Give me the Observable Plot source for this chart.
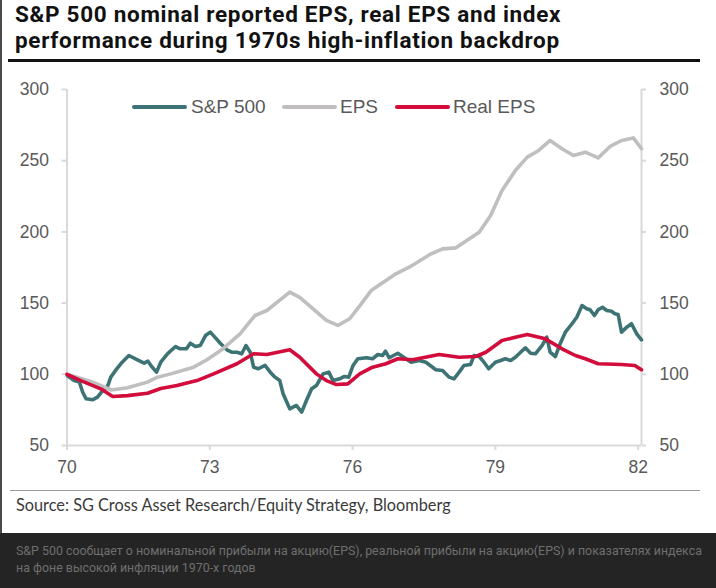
<!DOCTYPE html>
<html>
<head>
<meta charset="utf-8">
<script src="https://cdn.jsdelivr.net/npm/d3@7"></script>
<script src="https://cdn.jsdelivr.net/npm/@observablehq/plot@0.6"></script>
<style>
  html, body { margin: 0; padding: 0; background: #ffffff; }
  #page { position: relative; width: 716px; height: 588px; overflow: hidden; background: #fff; }
  #lborder { position: absolute; left: 0; top: 0; width: 2px; height: 533px; background: #4a4a4a; }
  #title { position: absolute; left: 15px; top: 1px; font-family: Roboto, "Noto Sans", sans-serif; font-weight: 700; font-size: 22.5px; color: #111; white-space: nowrap; line-height: 26.4px; letter-spacing: 0.7px; }
  #rule { position: absolute; left: 8px; top: 59px; width: 692px; height: 3px; background: #111; }
  #chart { position: absolute; left: 0; top: 62px; }
  #legend { position: absolute; top: 96px; left: 0; height: 22px; width: 716px; font-family: "Liberation Sans", Arial, sans-serif; font-size: 19px; color: #595959; }
  .sw { position: absolute; top: 9px; height: 4px; border-radius: 2px; }
  .lt { position: absolute; top: 0; line-height: 22px; white-space: nowrap; }
  #srule { position: absolute; left: 10px; top: 490px; width: 690px; height: 1px; background: #9a9a9a; }
  #source { position: absolute; left: 16px; top: 495px; font-family: Lato, sans-serif; font-size: 16.3px; color: #3a3a3a; line-height: 20px; white-space: nowrap; }
  #footer { position: absolute; left: 0; top: 533px; width: 716px; height: 55px; background: #242424; }
  #caption { position: absolute; left: 16px; top: 9px; font-family: Roboto, sans-serif; font-size: 12.4px; color: #6f6f6f; line-height: 17px; white-space: nowrap; }
</style>
</head>
<body>
<div id="page">
  <div id="lborder"></div>
  <div id="title">S&amp;P 500 nominal reported EPS, real EPS and index<br>performance during 1970s high-inflation backdrop</div>
  <div id="rule"></div>
  <div id="chart"></div>
  <div id="legend"></div>
  <div id="srule"></div>
  <div id="source">Source: SG Cross Asset Research/Equity Strategy, Bloomberg</div>
  <div id="footer"><div id="caption">S&amp;P 500 сообщает о номинальной прибыли на акцию(EPS), реальной прибыли на акцию(EPS) и показателях индекса<br>на фоне высокой инфляции 1970-х годов</div></div>
</div>
<script>
// ---- Data (rebased, 1970 = 100) ----
const seriesNames = ["S&P 500", "EPS", "Real EPS"];
const seriesColors = ["#3d7375", "#c0bebe", "#d20c3b"];

const spxYears = [70.01,70.15,70.26,70.33,70.4,70.54,70.64,70.75,70.85,70.92,71.02,71.16,71.3,71.48,71.62,71.7,71.79,71.88,71.97,72.11,72.28,72.38,72.51,72.59,72.7,72.8,72.91,73.01,73.12,73.22,73.36,73.46,73.57,73.67,73.76,73.85,73.92,74.02,74.16,74.27,74.37,74.47,74.54,74.68,74.82,74.93,75.03,75.14,75.24,75.38,75.5,75.59,75.73,75.83,75.92,76.01,76.11,76.29,76.42,76.53,76.63,76.69,76.77,76.95,77.05,77.23,77.4,77.54,77.75,77.89,78.03,78.13,78.24,78.34,78.48,78.55,78.66,78.76,78.86,79,79.11,79.21,79.32,79.42,79.53,79.63,79.74,79.84,79.98,80.08,80.15,80.26,80.36,80.47,80.61,80.71,80.82,80.92,80.99,81.08,81.16,81.25,81.34,81.44,81.51,81.58,81.65,81.76,81.86,81.97,82.07];
const spxValues = [99,95.6,94.5,87.4,82.8,82.1,84,88.6,91.4,98,102.7,108.5,113.2,110.2,107.8,109.2,105,101.5,108.5,114.4,119.5,117.9,117.9,121.8,119.5,120.2,127.2,129.6,125.6,121.8,117.2,115.5,115.5,114.4,120.2,115.5,105,103.9,106.2,101.5,98,95.6,86.3,75.8,78.1,73.4,81.6,89.8,92.1,100.3,101.5,95.6,96.8,98.5,98,106.2,110.9,111.6,110.9,113.9,113.2,116.2,111.6,114.8,112.5,108.5,109.7,108.5,103.2,102.7,98,96.8,101.5,106.2,106.9,113.2,112.5,108.5,103.9,108.5,109.7,110.9,109.7,112,115.5,118.6,114.8,114.4,120.2,126.1,115.5,112.5,121.4,129.6,135.5,140.1,148.3,146,145.3,141.3,145.3,147.1,144.8,144.3,142.5,142,129.6,133.1,135.5,128.4,124.2];

const epsYears = [70,70.5,70.93,71.27,71.69,71.9,72.18,72.66,72.94,73.28,73.64,73.95,74.2,74.68,74.89,75.45,75.69,75.94,76.15,76.39,76.91,77.19,77.65,77.89,78.17,78.66,78.9,79.14,79.42,79.67,79.91,80.15,80.4,80.64,80.89,81.16,81.41,81.65,81.9,82.07];
const epsValues = [100,95,89,90.5,94.5,98,100.3,105,110.2,118,128.6,141.3,144.8,157.7,154,137.8,134.3,139,148,158.8,170.6,175.2,184.6,188.1,188.8,199.8,211.5,229,243.1,252.5,257.2,264.2,258.4,253.7,256,252,260,264.2,266,258.4];

const realYears = [70,70.29,70.71,70.96,71.27,71.69,71.97,72.31,72.73,73.08,73.57,73.92,74.2,74.68,74.89,75.24,75.45,75.66,75.9,76.15,76.42,76.7,76.95,77.26,77.82,78.24,78.59,78.8,79.14,79.42,79.67,80.05,80.4,80.68,80.89,81.16,81.65,81.93,82.07];
const realValues = [100,95.6,89.8,84.4,85,86.7,90,92.1,95.6,100.3,107.4,114.4,113.9,117.2,112,100.3,95.6,92.8,93.3,100.3,105,107.4,110.9,110.2,113.9,112,112.5,115.5,123.7,126.1,128,124.9,117.9,113.2,110.9,107.4,106.9,106.2,103.2];

const yTicks = [50, 100, 150, 200, 250, 300];
const xTicks = [70, 73, 76, 79, 82];
const xTickLabels = ["70", "73", "76", "79", "82"];

// ---- Build tables ----
const toRows = (xs, vs) => xs.map((x, i) => ({ x, v: vs[i] }));
const spx = toRows(spxYears, spxValues);
const eps = toRows(epsYears, epsValues);
const real = toRows(realYears, realValues);

const xEnd = 82.07;
const axisColor = "#d9d9d9";

const chart = Plot.plot({
  width: 716,
  height: 423,
  marginLeft: 66.5,
  marginRight: 75,
  marginTop: 27,
  marginBottom: 40,
  x: { domain: [70, xEnd] },
  y: { domain: [50, 300] },
  style: { fontFamily: "'Liberation Sans', Arial, sans-serif", fontSize: "17.5px", color: "#595959", background: "transparent", overflow: "visible" },
  marks: [
    Plot.ruleY([50], { x1: 70, x2: xEnd, stroke: axisColor, strokeWidth: 2 }),
    Plot.ruleX([70], { y1: 50, y2: 300, stroke: axisColor, strokeWidth: 2 }),
    Plot.ruleX([xEnd], { y1: 50, y2: 300, stroke: axisColor, strokeWidth: 2 }),
    Plot.axisY({ ticks: yTicks, tickSize: 5, tickPadding: 13, stroke: axisColor, strokeWidth: 2, label: null, fill: "#595959" }),
    Plot.axisY({ anchor: "right", ticks: yTicks, tickSize: 4, tickPadding: 14, stroke: axisColor, strokeWidth: 2, label: null, fill: "#595959" }),
    Plot.axisX({ ticks: xTicks, tickFormat: (d, i) => xTickLabels[i], tickSize: 5, tickPadding: 10, stroke: axisColor, strokeWidth: 2, label: null, fill: "#595959" }),
    Plot.line(spx, { x: "x", y: "v", stroke: seriesColors[0], strokeWidth: 3.6, strokeLinejoin: "round", strokeLinecap: "round" }),
    Plot.line(eps, { x: "x", y: "v", stroke: seriesColors[1], strokeWidth: 3.6, strokeLinejoin: "round", strokeLinecap: "round" }),
    Plot.line(real, { x: "x", y: "v", stroke: seriesColors[2], strokeWidth: 3.6, strokeLinejoin: "round", strokeLinecap: "round" })
  ]
});
document.getElementById("chart").appendChild(chart);

// ---- Legend ----
const legend = document.getElementById("legend");
const legendPos = [
  { sw: [132, 55], tx: 191 },
  { sw: [282, 55], tx: 340 },
  { sw: [395, 55], tx: 453 }
];
seriesNames.forEach((name, i) => {
  const s = document.createElement("div");
  s.className = "sw";
  s.style.left = legendPos[i].sw[0] + "px";
  s.style.width = legendPos[i].sw[1] + "px";
  s.style.background = seriesColors[i];
  legend.appendChild(s);
  const t = document.createElement("div");
  t.className = "lt";
  t.style.left = legendPos[i].tx + "px";
  t.textContent = name;
  legend.appendChild(t);
});
</script>
</body>
</html>
